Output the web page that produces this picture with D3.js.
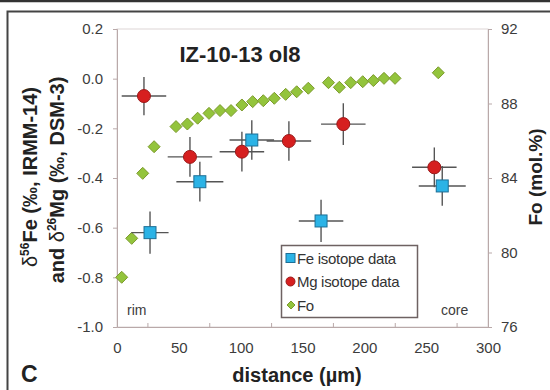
<!DOCTYPE html>
<html>
<head>
<meta charset="utf-8">
<style>
  body { margin: 0; background: #fff; }
  svg { font-family: "Liberation Sans", Arial, sans-serif; }
</style>
<script src="https://d3js.org/d3.v7.min.js"></script>
</head>
<body>
<svg id="chart" width="550" height="390"></svg>
<script>
// Fe isotope data (distance um, delta56Fe)
var feDist = [26.7, 67, 109, 165, 263];
var feVal  = [-0.62, -0.415, -0.247, -0.573, -0.432];
var feErrX = [15, 19, 18, 18, 19];
var feErrY = [0.085, 0.08, 0.08, 0.085, 0.08];

// Mg isotope data (distance um, delta26Mg)
var mgDist = [21.8, 59, 101, 139, 183, 256.6];
var mgVal  = [-0.07, -0.315, -0.294, -0.251, -0.183, -0.357];
var mgErrX = [18, 18, 18, 18, 18, 18];
var mgErrY = [0.077, 0.08, 0.08, 0.08, 0.084, 0.08];

// Fo profile (distance um, mol.%)
var foDist = [3.8, 11.9, 20.8, 30, 47.7, 56.9, 65.2, 74.4, 83.3, 92.2, 101, 109.7, 118.3,
              127.2, 136.4, 145.3, 154.7, 171, 179.8, 189, 198.7, 207.3, 215.9, 224.8, 259.8];
var foVal  = [78.67, 80.76, 84.25, 85.68, 86.76, 86.9, 87.21, 87.47, 87.62, 87.62, 87.92, 88.1, 88.15,
              88.28, 88.49, 88.63, 88.82, 89.12, 88.87, 89.12, 89.17, 89.23, 89.35, 89.35, 89.65];

var xTicks = [0, 50, 100, 150, 200, 250, 300];
var yTicks = [0.2, 0.0, -0.2, -0.4, -0.6, -0.8, -1.0];
var y2Ticks = [76, 80, 84, 88, 92];

var svg = d3.select("#chart");
var pL = 117, pR = 488, pT = 29, pB = 327;

var x = d3.scaleLinear().domain([0, 300]).range([pL, pR]);
var y = d3.scaleLinear().domain([-1.0, 0.2]).range([pB, pT]);
var y2 = d3.scaleLinear().domain([76, 92]).range([pB, pT]);

// outer frame
svg.append("line").attr("x1", 0).attr("x2", 550).attr("y1", 1).attr("y2", 1)
  .attr("stroke", "#333").attr("stroke-width", 2.5);
svg.append("path").attr("d", "M7.5,390V11.5H550").attr("fill", "none")
  .attr("stroke", "#444").attr("stroke-width", 2);

// plot area border
svg.append("rect").attr("x", pL).attr("y", pT)
  .attr("width", pR - pL).attr("height", pB - pT)
  .attr("fill", "none").attr("stroke", "#ddd6d6").attr("stroke-width", 1);

var axisColor = "#b9a9a9";
var labelColor = "#3c3c3c";

function styleAxis(g) {
  g.select(".domain").attr("stroke", axisColor);
  g.selectAll(".tick line").attr("stroke", axisColor);
  g.selectAll(".tick text").attr("fill", labelColor).attr("font-size", 15);
}

svg.append("g")
  .attr("transform", "translate(0," + pB + ")")
  .call(d3.axisBottom(x).tickValues(xTicks).tickSize(0).tickPadding(15))
  .call(styleAxis)
  .call(function(g) { g.selectAll(".tick text").attr("dy", "0.71em"); });

// bottom minor ticks (inside)
svg.append("g").selectAll("line").data(d3.range(25, 300, 50)).enter().append("line")
  .attr("x1", function(d) { return x(d); }).attr("x2", function(d) { return x(d); })
  .attr("y1", pB).attr("y2", pB - 4).attr("stroke", axisColor);

svg.append("g")
  .attr("transform", "translate(" + pL + ",0)")
  .call(d3.axisLeft(y).tickValues(yTicks).tickFormat(function(d) { return d3.format(".1f")(d).replace("−", "-"); })
    .tickSize(4).tickPadding(10))
  .call(styleAxis);

svg.append("g")
  .attr("transform", "translate(" + pR + ",0)")
  .call(d3.axisRight(y2).tickValues(y2Ticks).tickSize(4).tickPadding(9))
  .call(styleAxis);

// error bars
var errColor = "#555";
function errBars(xs, ys, ex, ey) {
  var g = svg.append("g").attr("stroke", errColor).attr("stroke-width", 1.4);
  xs.forEach(function(d, i) {
    g.append("line").attr("x1", x(d - ex[i])).attr("x2", x(d + ex[i]))
      .attr("y1", y(ys[i])).attr("y2", y(ys[i]));
    g.append("line").attr("x1", x(d)).attr("x2", x(d))
      .attr("y1", y(ys[i] - ey[i])).attr("y2", y(ys[i] + ey[i]));
  });
}

// Fo diamonds
var diamond = "M0,-6L6,0L0,6L-6,0Z";
svg.append("g").selectAll("path").data(foDist).enter().append("path")
  .attr("d", diamond)
  .attr("transform", function(d, i) { return "translate(" + x(d) + "," + y2(foVal[i]) + ")"; })
  .attr("fill", "#93c43c").attr("stroke", "#7c9a2c").attr("stroke-width", 1);

errBars(mgDist, mgVal, mgErrX, mgErrY);
svg.append("g").selectAll("circle").data(mgDist).enter().append("circle")
  .attr("cx", function(d) { return x(d); })
  .attr("cy", function(d, i) { return y(mgVal[i]); })
  .attr("r", 6.5)
  .attr("fill", "#d61f1f").attr("stroke", "#9a1a1a").attr("stroke-width", 1);

errBars(feDist, feVal, feErrX, feErrY);
svg.append("g").selectAll("rect").data(feDist).enter().append("rect")
  .attr("x", function(d) { return x(d) - 6; })
  .attr("y", function(d, i) { return y(feVal[i]) - 6; })
  .attr("width", 12).attr("height", 12)
  .attr("fill", "#2bb3e6").attr("stroke", "#1d6f96").attr("stroke-width", 1);

// legend
var lg = svg.append("g");
lg.append("rect").attr("x", 281.5).attr("y", 245.5).attr("width", 136).attr("height", 72)
  .attr("fill", "#fff").attr("stroke", "#6e6262").attr("stroke-width", 1.5);
var legItems = ["Fe isotope data", "Mg isotope data", "Fo"];
legItems.forEach(function(t, i) {
  var cy = 258 + i * 23.5;
  if (i === 0) lg.append("rect").attr("x", 286).attr("y", cy - 4.5).attr("width", 9).attr("height", 9)
    .attr("fill", "#2bb3e6").attr("stroke", "#1d6f96");
  if (i === 1) lg.append("circle").attr("cx", 290.5).attr("cy", cy).attr("r", 4.5)
    .attr("fill", "#d61f1f").attr("stroke", "#9a1a1a");
  if (i === 2) lg.append("path").attr("d", "M0,-4L4,0L0,4L-4,0Z")
    .attr("transform", "translate(291," + cy + ")")
    .attr("fill", "#93c43c").attr("stroke", "#7c9a2c");
  lg.append("text").attr("x", 297).attr("y", cy + 5.5).attr("font-size", 15)
    .attr("letter-spacing", -0.3).attr("fill", "#333").text(t);
});

// annotations
svg.append("text").attr("x", 127).attr("y", 315).attr("font-size", 14).attr("fill", labelColor).text("rim");
svg.append("text").attr("x", 441).attr("y", 315).attr("font-size", 14).attr("fill", labelColor).text("core");
svg.append("text").attr("x", 240).attr("y", 62).attr("text-anchor", "middle")
  .attr("font-size", 22).attr("font-weight", "bold").attr("fill", "#222").text("IZ-10-13 ol8");
svg.append("text").attr("x", 21).attr("y", 382).attr("font-size", 23).attr("font-weight", "bold")
  .attr("fill", "#222").text("C");
svg.append("text").attr("x", 297).attr("y", 382).attr("text-anchor", "middle")
  .attr("font-size", 20).attr("font-weight", "bold").attr("fill", "#222").text("distance (µm)");

// left axis title (two lines, rotated)
function supLabel(cx, cy, parts) {
  var t = svg.append("text").attr("transform", "translate(" + cx + "," + cy + ") rotate(-90)")
    .attr("text-anchor", "middle").attr("font-size", 20).attr("font-weight", "bold").attr("fill", "#222");
  parts.forEach(function(p) {
    var s = t.append("tspan").text(p[0]);
    if (p[1] === "sup") s.attr("font-size", 12).attr("dy", -8);
    else if (p[1] === "after") s.attr("dy", 8);
    if (p[2]) s.attr("font-weight", "normal");
  });
}
supLabel(37, 177, [["δ", "", true], ["56", "sup"], ["Fe (‰, IRMM-14)", "after"]]);
supLabel(64, 180, [["and ", ""], ["δ", "", true], ["26", "sup"], ["Mg (‰, DSM-3)", "after"]]);

svg.append("text").attr("transform", "translate(542,177) rotate(-90)")
  .attr("text-anchor", "middle").attr("font-size", 19).attr("font-weight", "bold")
  .attr("fill", "#222").text("Fo (mol.%)");
</script>
</body>
</html>
